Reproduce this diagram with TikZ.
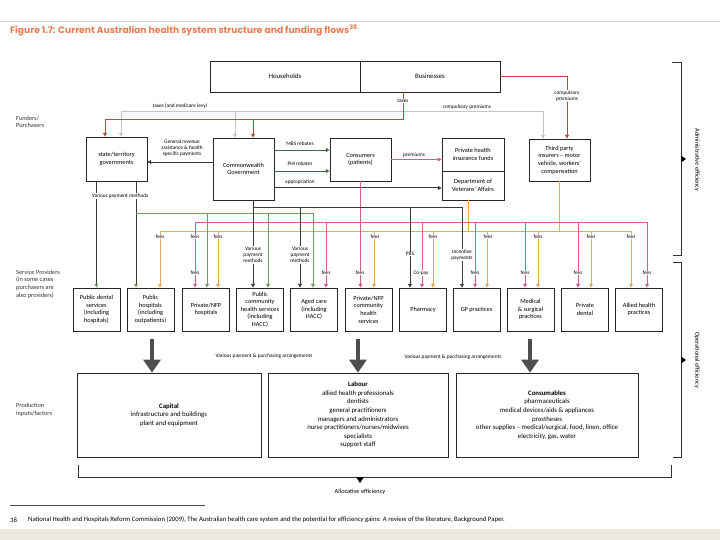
\documentclass[tikz,border=0pt]{standalone}
\usepackage{fontspec}
\setmainfont{Carlito}
\newfontfamily\headfont{Poppins}
\usetikzlibrary{arrows.meta, positioning, calc}
\definecolor{cTitle}{RGB}{230,126,84}
\definecolor{cRed}{RGB}{178,72,62}
\definecolor{cGrey}{RGB}{196,196,200}
\definecolor{cDark}{RGB}{58,58,58}
\definecolor{cGreen}{RGB}{112,156,98}
\definecolor{cLeaf}{RGB}{72,102,78}
\definecolor{cPink}{RGB}{214,92,142}
\definecolor{cOrange}{RGB}{234,168,84}
\definecolor{cPaper}{RGB}{236,233,224}
\tikzset{
    entity/.style={rectangle, draw=black!85, line width=0.7pt, align=center, inner sep=1pt, font=\fontsize{6.3}{7.6}\selectfont},
    funder/.style={entity, minimum width=61pt},
    provider/.style={entity, minimum width=47pt, minimum height=43pt},
    factor/.style={entity, minimum height=84pt, font=\fontsize{6.8}{8.6}\selectfont},
    note/.style={font=\fontsize{5.3}{6.1}\selectfont, align=center, inner sep=0.6pt},
    tag/.style={note, fill=white},
    side/.style={font=\fontsize{6.3}{7.6}\selectfont, text=black!80, align=left, anchor=west, inner sep=0pt},
    tip/.style={-{Triangle[length=3.8pt,width=3.8pt]}},
    gtip/.style={-{Triangle[length=3.8pt,width=3.8pt,color=cGreen]}},
    taxflow/.style={draw=cRed, line width=1pt},
    levyflow/.style={draw=cGrey, line width=0.8pt},
    govflow/.style={draw=cDark, line width=0.7pt},
    rebateflow/.style={draw=cLeaf, line width=0.9pt},
    stateflow/.style={draw=cGreen, line width=0.7pt},
    feeflow/.style={draw=cPink, line width=0.7pt},
    fundflow/.style={draw=cOrange, line width=0.7pt},
    bigarrow/.style={draw=cDark!90, line width=4.2pt, -{Triangle[length=13pt,width=17pt]}},
    frame/.style={draw=black!80, line width=0.7pt},
}

\begin{document}
\begin{tikzpicture}[x=1pt, y=-1pt]
    \fill[white] (0,0) rectangle (720,540);
    \fill[cPaper] (0,529) rectangle (720,540);
    \useasboundingbox (0,0) rectangle (720,540);
    \draw[black!15] (0,21) -- (720,21);

    \node[anchor=west, inner sep=0pt, text=cTitle, font=\headfont\bfseries\fontsize{9.2}{10}\selectfont] (title) at (10,30)
        {Figure 1.7: Current Australian health system structure and funding flows\textsuperscript{38}};

    % funders
    \node[entity, minimum width=150pt, minimum height=31pt, font=\fontsize{6.8}{8}\selectfont] (hh) at (285,76.5) {Households};
    \node[entity, minimum width=140pt, minimum height=31pt, font=\fontsize{6.8}{8}\selectfont] (bus) at (430,76.5) {Businesses};
    \node[funder, minimum height=44pt] (state) at (116.5,159) {state/territory\\governments};
    \node[funder, minimum height=62pt] (cwg) at (243.5,169) {Commonwealth\\Government};
    \node[funder, minimum height=43pt] (cons) at (360.5,159.5) {Consumers\\(patients)};
    \node[funder, minimum width=62pt, minimum height=33pt] (phi) at (473,154.5) {Private health\\insurance funds};
    \node[funder, minimum width=62pt, minimum height=29pt] (dva) at (473,185.5) {Department of\\Veterans' Affairs};
    \node[funder, minimum height=42pt] (tpi) at (559.5,160) {Third party\\insurers -- motor\\vehicle, workers'\\compensation};

    % providers
    \node[provider] (pds) at (96.5,309.5) {Public dental\\services\\(including\\hospitals)};
    \node[provider] (phosp) at (150.5,309.5) {Public\\hospitals\\(including\\outpatients)};
    \node[provider] (pnfp) at (206,309.5) {Private/NFP\\hospitals};
    \node[provider] (pchs) at (260,309.5) {Public\\community\\health services\\(including\\HACC)};
    \node[provider] (aged) at (314,309.5) {Aged care\\(including\\HACC)};
    \node[provider] (pnchs) at (368.5,309.5) {Private/NFP\\community\\health\\services};
    \node[provider] (pharm) at (423,309.5) {Pharmacy};
    \node[provider] (gp) at (476.5,309.5) {GP practices};
    \node[provider] (med) at (530.5,309.5) {Medical\\\& surgical\\practices};
    \node[provider] (pdent) at (585,309.5) {Private\\dental};
    \node[provider] (allied) at (639,309.5) {Allied health\\practices};

    % production inputs
    \node[factor, minimum width=184pt] (capital) at (169,415) {\textbf{Capital}\\infrastructure and buildings\\plant and equipment};
    \node[factor, minimum width=180pt] (labour) at (358,415) {\textbf{Labour}\\allied health professionals\\dentists\\general practitioners\\managers and administrators\\nurse practitioners/nurses/midwives\\specialists\\support staff};
    \node[factor, minimum width=182pt] (consum) at (547,415) {\textbf{Consumables}\\pharmaceuticals\\medical devices/aids \& appliances\\prostheses\\other supplies -- medical/surgical, food, linen, office\\electricity, gas, water};

    % row labels
    \node[side] (fundlbl) at (16,122) {Funders/\\Purchasers};
    \node[side] (provlbl) at (16,284) {Service Providers\\(in some cases\\purchasers are\\also providers)};
    \node[side] (prodlbl) at (16,410) {Production\\inputs/factors};

    % taxes and premiums
    \coordinate (taxB) at (403,120);
    \coordinate (taxS) at (105,120);
    \coordinate (taxC) at (253,120);
    \coordinate (levyS) at (121,111);
    \coordinate (levyC) at (235,111);
    \coordinate (levyT) at (543,111);
    \coordinate (cpB) at (567,77);
    \draw[levyflow, tip] (levyT) -- (levyS) -- (levyS |- state.north);
    \draw[levyflow, tip] (levyC) -- (levyC |- cwg.north);
    \draw[levyflow, tip] (levyT) -- (levyT |- tpi.north);
    \draw[taxflow, tip] (bus.south -| taxB) -- (taxB) -- (taxS) -- (taxS |- state.north);
    \draw[taxflow, tip] (taxC) -- (taxC |- cwg.north);
    \draw[taxflow, tip] (bus.east) -- (bus.east -| cpB) -- (cpB |- tpi.north);
    \node[note] (taxlbl) at (180,106) {taxes (and medicare levy)};
    \node[tag] (btaxlbl) at (403,101) {taxes};
    \node[note] (cplbl) at (467,107) {compulsory premiums};
    \node[tag] (cpblbl) at (567,96) {compulsory\\premiums};

    % government and consumer flows
    \draw[govflow, tip] ([yshift=7pt]cwg.west) -- ([yshift=7pt]cwg.west -| state.east);
    \draw[rebateflow, tip] ([yshift=19pt]cwg.east) -- ([yshift=19pt]cwg.east -| cons.west);
    \draw[rebateflow, tip] ([yshift=-2pt]cwg.east) -- ([yshift=-2pt]cwg.east -| cons.west);
    \draw[govflow, line width=1pt, tip] ([yshift=-19pt]cwg.east) -- ([yshift=-19pt]cwg.east -| dva.west);
    \draw[feeflow, line width=0.9pt, tip] (cons.east) -- (cons.east -| phi.west);
    \node[note] (grlbl) at (182,148) {General revenue\\assistance \& health\\specific payments};
    \node[note] (mbslbl) at (300,144) {MBS rebates};
    \node[note] (philbl) at (300,164) {PHI rebates};
    \node[note] (applbl) at (300,182) {appropriation};
    \node[note] (premlbl) at (414,155) {premiums};

    % payment buses
    \coordinate (cwgL) at (253,207);
    \coordinate (cwgR) at (462,207);
    \coordinate (stL) at (136,213);
    \coordinate (stR) at (313,213);
    \coordinate (feeL) at (195,222);
    \coordinate (feeR) at (647,222);
    \coordinate (insL) at (160,231);
    \coordinate (insR) at (631,231);

    \draw[fundflow] ([xshift=-5pt]dva.south) -- ([xshift=-5pt]dva.south |- insL);
    \draw[fundflow] (tpi.south) -- (tpi.south |- insL);
    \draw[fundflow] (insL) -- (insR);
    \foreach \b/\dx in {phosp/9.5, pnfp/12, pnchs/5.5, pharm/10, gp/10.5, med/7.5, pdent/6, allied/-8}
        \draw[fundflow, tip] ([xshift=\dx pt]\b.north |- insL) -- ([xshift=\dx pt]\b.north);

    \draw[feeflow, tip] (cons.south) -- (cons.south |- pnchs.north);
    \draw[feeflow] (feeL) -- (feeR);
    \foreach \b/\dx in {pnfp/-11, aged/12, pharm/-1, gp/-1.5, med/-5.5, pdent/-7, allied/8}
        \draw[feeflow, tip] ([xshift=\dx pt]\b.north |- feeL) -- ([xshift=\dx pt]\b.north);

    \draw[govflow, gtip] (state.south -| pds.north) -- (pds.north);
    \draw[govflow, gtip] (state.south -| stL) -- (stL |- phosp.north);
    \draw[stateflow] (stL) -- (stR);
    \foreach \b/\dx in {pnfp/1, pchs/8, aged/-1}
        \draw[stateflow, tip] ([xshift=\dx pt]\b.north |- stL) -- ([xshift=\dx pt]\b.north);

    \draw[govflow, tip] (cwg.south -| cwgL) -- (cwgL |- pchs.north);
    \draw[govflow] (cwgL) -- (cwgR);
    \foreach \b/\dx in {aged/-14, pharm/-13, gp/-14.5}
        \draw[govflow, tip] ([xshift=\dx pt]\b.north |- cwgL) -- ([xshift=\dx pt]\b.north);

    % flow labels
    \node[tag] (vpmS) at (120,196) {Various payment methods};
    \node[tag] (vpmC) at (253,255) {Various\\payment\\methods};
    \node[tag] (vpmA) at (300,255) {Various\\payment\\methods};
    \node[tag] (pbs) at (410,254) {PBS};
    \node[tag] (incent) at (462,255) {Incentive\\payments};
    \foreach \x in {160,195,218,375,433,488,538,591,631}
        \node[tag] (feeA\x) at (\x,237) {fees};
    \foreach \x in {195,326,360,475,525,578,647}
        \node[tag] (feeB\x) at (\x,273) {fees};
    \node[tag] (copay) at (421,273) {Co-pay};

    % purchasing of inputs
    \draw[bigarrow] ([xshift=-17pt,yshift=34pt]capital.north) -- ([xshift=-17pt]capital.north);
    \draw[bigarrow] ([yshift=34pt]labour.north) -- (labour.north);
    \draw[bigarrow] ([xshift=-17pt,yshift=34pt]consum.north) -- ([xshift=-17pt]consum.north);
    \node[note] (vppL) at (264,356) {Various payment \& purchasing arrangements};
    \node[note] (vppR) at (453,357) {Various payment \& purchasing arrangements};

    % efficiency brackets
    \draw[frame] (672,62) -- (681,62) -- (681,255) -- (673,255);
    \fill[black] (681,155.5) -- (686,159) -- (681,162.5) -- cycle;
    \node[rotate=-90, font=\fontsize{6.3}{7}\selectfont] (admin) at (697,160) {Administrative efficiency};
    \draw[frame] (673,262) -- (681,262) -- (681,457) -- (673,457);
    \fill[black] (681,356.5) -- (686,360) -- (681,363.5) -- cycle;
    \node[rotate=-90, font=\fontsize{6.3}{7}\selectfont] (oper) at (697,360) {Operational efficiency};
    \draw[frame] (78,465) -- (78,477) -- (671,477) -- (671,465);
    \fill[black] (356,477) -- (360,483) -- (364,477) -- cycle;
    \node[font=\fontsize{6.3}{7}\selectfont] (alloc) at (360,492) {Allocative efficiency};

    % footnote
    \draw[black!70, line width=0.5pt] (10,505) -- (205,505);
    \node[anchor=west, inner sep=0pt, font=\fontsize{6.7}{7}\selectfont] (fnnum) at (10,520) {38};
    \node[anchor=west, inner sep=0pt, font=\fontsize{6.7}{7}\selectfont] (fntext) at (28,520)
        {National Health and Hospitals Reform Commission (2009), The Australian health care system and the potential for efficiency gains: A review of the literature, Background Paper.};
\end{tikzpicture}
\end{document}
